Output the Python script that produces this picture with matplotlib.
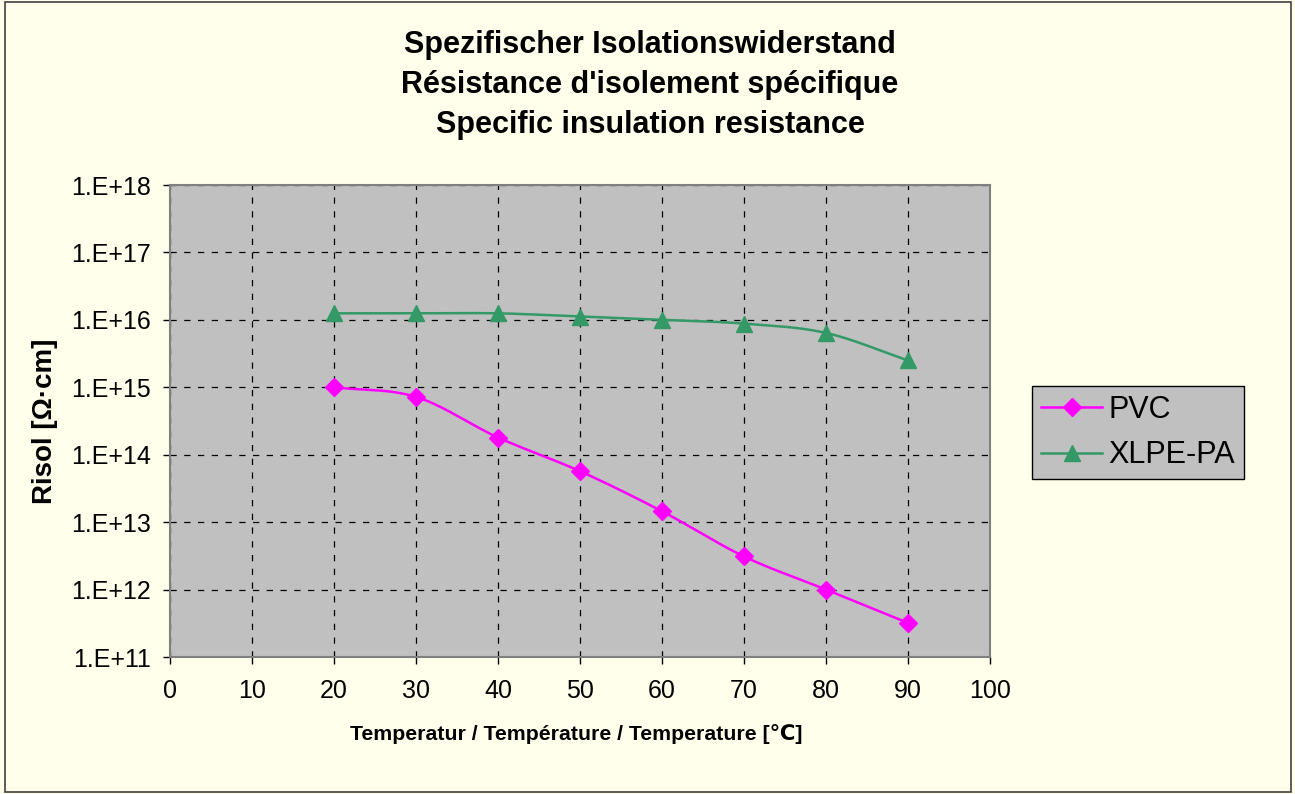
import numpy as np
import matplotlib
matplotlib.use("Agg")
import matplotlib.pyplot as plt
from matplotlib.patches import Rectangle

plt.rcParams['font.family'] = ['Liberation Sans', 'DejaVu Sans']

# data
temps = [20, 30, 40, 50, 60, 70, 80, 90]
pvc = [1.0e15, 7.2e14, 1.8e14, 5.7e13, 1.45e13, 3.1e12, 1.0e12, 3.2e11]
xlpe = [1.25e16, 1.25e16, 1.25e16, 1.12e16, 1.0e16, 8.8e15, 6.4e15, 2.5e15]
xticks = list(range(0, 101, 10))
yticks = [1e11, 1e12, 1e13, 1e14, 1e15, 1e16, 1e17, 1e18]
ytick_labels = ['1.E+11', '1.E+12', '1.E+13', '1.E+14', '1.E+15', '1.E+16', '1.E+17', '1.E+18']


def smooth(x, y, n=20):
    # catmull-rom through the points in (x, log y), like Excel's smoothed line
    x = np.asarray(x, float)
    ly = np.log10(y)
    px = np.concatenate([[2 * x[0] - x[1]], x, [2 * x[-1] - x[-2]]])
    py = np.concatenate([[2 * ly[0] - ly[1]], ly, [2 * ly[-1] - ly[-2]]])
    xs, ys = [], []
    t = np.linspace(0, 1, n)
    for i in range(1, len(px) - 2):
        for p, out in ((px, xs), (py, ys)):
            p0, p1, p2, p3 = p[i - 1], p[i], p[i + 1], p[i + 2]
            out.extend(0.5 * (2 * p1 + (-p0 + p2) * t
                              + (2 * p0 - 5 * p1 + 4 * p2 - p3) * t ** 2
                              + (-p0 + 3 * p1 - 3 * p2 + p3) * t ** 3))
    return np.array(xs), 10 ** np.array(ys)


bg = '#FFFFEB'
fig = plt.figure(figsize=(12.95, 7.94), dpi=100, facecolor=bg)
fig.patches.append(Rectangle((0.004, 0.003), 0.993, 0.994, transform=fig.transFigure,
                             fill=False, edgecolor='#404040', linewidth=1.2))

ax = fig.add_axes([0.1313, 0.1725, 0.6332, 0.5945])
ax.set_facecolor('#C0C0C0')

pvc_col = '#FF00FF'
xlpe_col = '#339966'
sx, sy = smooth(temps, pvc)
ax.plot(sx, sy, color=pvc_col, lw=1.8)
sx, sy = smooth(temps, xlpe)
ax.plot(sx, sy, color=xlpe_col, lw=1.8)
ax.plot(temps, pvc, ls='none', marker='D', ms=9, color=pvc_col)
ax.plot(temps, xlpe, ls='none', marker='^', ms=11, color=xlpe_col)

# legend proxies
ax.plot([], [], color=pvc_col, lw=1.8, marker='D', ms=9, label='PVC')
ax.plot([], [], color=xlpe_col, lw=1.8, marker='^', ms=11, label='XLPE-PA')
h, l = ax.get_legend_handles_labels()
leg = fig.legend(h, l, loc='upper left', bbox_to_anchor=(0.797, 0.514), fontsize=22,
                 frameon=True, fancybox=False, facecolor='#C0C0C0', edgecolor='black',
                 framealpha=1, handlelength=2.0, handletextpad=0.2, borderpad=0.3,
                 labelspacing=0.5, borderaxespad=0)
leg.get_frame().set_linewidth(1.0)

ax.set_yscale('log')
ax.set_xlim(0, 100)
ax.set_ylim(1e11, 1e18)
ax.set_xticks(xticks)
ax.set_xticklabels([str(v) for v in xticks], fontsize=18)
ax.set_yticks(yticks)
ax.set_yticklabels(ytick_labels, fontsize=18)
ax.minorticks_off()
ax.tick_params(direction='out', length=5, width=1, color='black')
ax.tick_params(axis='x', pad=11)
ax.tick_params(axis='y', pad=9)
ax.grid(True, color='black', ls=(0, (5, 6)), lw=0.9)
for s in ax.spines.values():
    s.set_color('#808080')
    s.set_linewidth(1.5)

ax.set_ylabel('Risol [Ω·cm]', fontsize=20, fontweight='bold')
ax.yaxis.set_label_coords(-0.137, 0.5)
ax.set_xlabel('Temperatur / Température / Temperature [℃]', fontsize=15.3,
              fontweight='bold')
ax.xaxis.set_label_coords(0.495, -0.141)

fig.text(0.502, 0.893, "Spezifischer Isolationswiderstand\nRésistance d'isolement spécifique\n"
         "Specific insulation resistance", ha='center', va='center', fontsize=22,
         fontweight='bold', linespacing=1.43)

fig.savefig('out.png', dpi=100, facecolor=bg)
